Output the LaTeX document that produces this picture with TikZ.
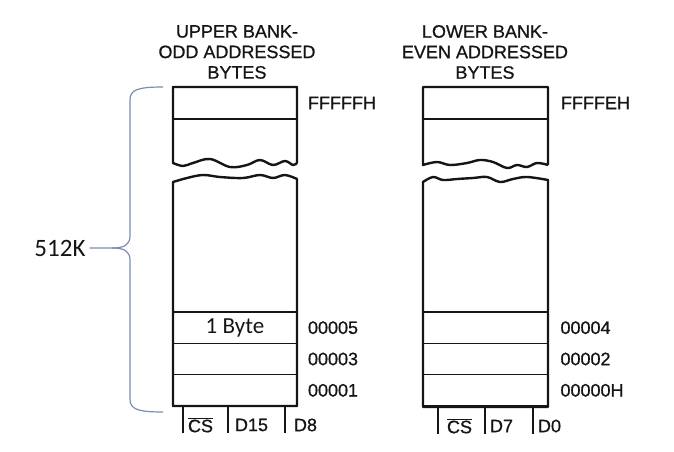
\documentclass[tikz,border=0pt]{standalone}
\usepackage{fontspec}
\setmainfont{Liberation Sans}[FakeBold=0.8]
\newfontfamily\calfont{Carlito}
\usetikzlibrary{positioning}
\definecolor{cink}{HTML}{151515}
\definecolor{cbrace}{HTML}{7d8db0}

\begin{document}
\begin{tikzpicture}[x=1pt, y=-1pt, cink,
    every node/.style={inner sep=0pt, outer sep=0pt},
    cell/.style={draw=cink, line width=1.5pt, minimum width=124pt, minimum height=31.3pt},
    outline/.style={line width=2.4pt, line join=round},
    title/.style={align=center, font=\fontsize{18}{20.5}\selectfont},
    addr/.style={anchor=west, font=\fontsize{18}{20}\selectfont},
    pinlbl/.style={anchor=west, font=\fontsize{18}{20}\selectfont},
    pinline/.style={line width=1.8pt}]
  \useasboundingbox (0,0) rectangle (674,452);

  % titles
  \node[title] (utitle) at (237,52) {UPPER BANK-\\ODD ADDRESSED\\BYTES};
  \node[title] (ltitle) at (485,52) {LOWER BANK-\\EVEN ADDRESSED\\BYTES};

  % upper bank cells
  \node[cell, minimum height=32pt] (utop) at (235,103) {};
  \node[cell] (u5) at (235,327.7) {\calfont\fontsize{23}{25}\selectfont 1 Byte};
  \node[cell, below=0pt of u5] (u3) {};
  \node[cell, below=0pt of u3] (u1) {};
  % lower bank cells
  \node[cell, minimum height=32pt] (ltop) at (485.5,103) {};
  \node[cell] (l4) at (485.5,327.7) {};
  \node[cell, below=0pt of l4] (l2) {};
  \node[cell, below=0pt of l2] (l0) {};

  % outlines with torn edges
  \draw[outline] (297,163) -- (297,87) -- (173,87) -- (173,163)
    -- plot[smooth, tension=.6] coordinates {(173,163) (183,166) (193,163) (210,159) (230,167)
       (247,165) (260,160) (273,165) (285,161) (293,165) (297,163)};
  \draw[outline] plot[smooth, tension=.6] coordinates {(173,182) (187,178) (203,175) (220,177)
       (243,178) (260,175) (273,178) (285,175) (297,179)} -- (297,406) -- (173,406) -- cycle;
  \draw[outline] (548,165) -- (548,87) -- (423,87) -- (423,165)
    -- plot[smooth, tension=.6] coordinates {(423,165) (437,162) (450,165) (467,163) (480,160)
       (493,162) (507,168) (517,165) (527,167) (537,163) (548,165)};
  \draw[outline] plot[smooth, tension=.6] coordinates {(423,182) (433,177) (443,180) (457,179)
       (473,178) (487,177) (500,182) (513,179) (527,177) (548,180)} -- (548,407) -- (423,407) -- cycle;

  % addresses
  \node[addr] (aFFFFF) at (308,103) {FFFFFH};
  \node[addr, right=11pt of u5] (a5) {00005};
  \node[addr, right=11pt of u3] (a3) {00003};
  \node[addr, right=11pt of u1] (a1) {00001};
  \node[addr] (aFFFFE) at (561,103) {FFFFEH};
  \node[addr, right=13pt of l4] (a4) {00004};
  \node[addr, right=13pt of l2] (a2) {00002};
  \node[addr, right=13pt of l0] (a0) {00000H};

  % pins
  \foreach \x in {183,228,285} \draw[pinline] (\x,406) -- (\x,433);
  \foreach \x in {438,485,533} \draw[pinline] (\x,407) -- (\x,434);
  \node[pinlbl] (ucs) at (188,425) {$\overline{\mbox{CS}}$};
  \node[pinlbl] (ud15) at (235,425) {D15};
  \node[pinlbl] (ud8) at (294,425) {D8};
  \node[pinlbl] (lcs) at (447,426) {$\overline{\mbox{CS}}$};
  \node[pinlbl] (ld7) at (490,426) {D7};
  \node[pinlbl] (ld0) at (538,426) {D0};

  % size brace
  \node[font=\calfont\fontsize{25}{27}\selectfont] (size) at (60,248) {512K};
  \coordinate (brtop) at (163,87);
  \coordinate (brbot) at (163,412);
  \draw[cbrace, line width=1.2pt]
    (brtop) .. controls (137,87) and (130,90) .. (130,100) -- (130,236)
    .. controls (130,245) and (124,248) .. (112,248) -- ([xshift=4pt]size.east);
  \draw[cbrace, line width=1.2pt]
    (brbot) .. controls (137,412) and (130,409) .. (130,399) -- (130,260)
    .. controls (130,251) and (124,248) .. (112,248);
\end{tikzpicture}
\end{document}
